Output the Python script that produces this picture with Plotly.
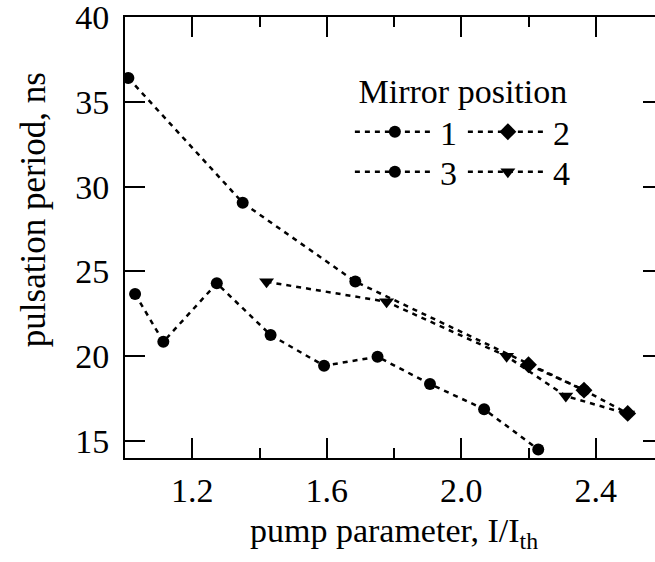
import plotly.graph_objects as go

# ---- data ----
x1 = [1.01, 1.35, 1.685, 2.365]
y1 = [36.4, 29.05, 24.4, 18.0]

x2 = [2.20, 2.365, 2.495]
y2 = [19.5, 18.0, 16.63]

x3 = [1.03, 1.114, 1.273, 1.433, 1.592, 1.751, 1.907, 2.068, 2.229]
y3 = [23.67, 20.85, 24.3, 21.25, 19.44, 19.97, 18.36, 16.88, 14.5]

x4 = [1.421, 1.778, 2.135, 2.311, 2.495]
y4 = [24.39, 23.21, 20.0, 17.65, 16.6]

series_names = ["1", "2", "3", "4"]
y_ticks = [15, 20, 25, 30, 35, 40]
x_ticks = [1.2, 1.6, 2.0, 2.4]
x_tick_labels = ["1.2", "1.6", "2.0", "2.4"]
x_minor_ticks = [1.4, 1.8, 2.2]

FONT = "Liberation Serif"
FS = 34
line_style = dict(color="black", width=2.5, dash="5px,5px")

fig = go.Figure()
fig.add_trace(go.Scatter(x=x1, y=y1, mode="lines+markers", name=series_names[0],
                         line=line_style, marker=dict(symbol="circle", size=12, color="black"),
                         legend="legend"))
fig.add_trace(go.Scatter(x=x2, y=y2, mode="lines+markers", name=series_names[1],
                         line=line_style, marker=dict(symbol="diamond", size=13, color="black"),
                         legend="legend"))
fig.add_trace(go.Scatter(x=x3, y=y3, mode="lines+markers", name=series_names[2],
                         line=line_style, marker=dict(symbol="circle", size=12, color="black"),
                         legend="legend2"))
fig.add_trace(go.Scatter(x=x4, y=y4, mode="lines+markers", name=series_names[3],
                         line=line_style, marker=dict(symbol="triangle-down", size=13, color="black"),
                         legend="legend2"))

axis_common = dict(showline=True, linecolor="black", linewidth=2, mirror="ticks",
                   ticks="inside", ticklen=20, tickwidth=2, tickcolor="black",
                   showgrid=False, zeroline=False, automargin=False,
                   ticklabeloverflow="allow",
                   tickfont=dict(family=FONT, size=FS, color="black"))

fig.update_xaxes(range=[1.0, 2.6], tickvals=x_ticks, ticktext=x_tick_labels,
                 minor=dict(ticks="inside", ticklen=10, tickwidth=2, tickcolor="black",
                            tickvals=x_minor_ticks),
                 ticklabelstandoff=1,
                 title=dict(text="pump parameter, I/I<sub>th</sub>",
                            font=dict(family=FONT, size=FS, color="black"), standoff=10),
                 **axis_common)
fig.update_yaxes(range=[14, 40], tickvals=y_ticks, ticklabelstandoff=7,
                 **axis_common)

# y-axis title (placed a little above the axis centre, as in the reference)
fig.add_annotation(text="pulsation period, ns", textangle=-90,
                   xref="paper", yref="paper", x=-0.171, y=0.562,
                   xanchor="center", yanchor="middle", showarrow=False,
                   font=dict(family=FONT, size=35, color="black"))

legend_common = dict(orientation="h", bgcolor="rgba(0,0,0,0)",
                     font=dict(family=FONT, size=FS, color="black"),
                     itemwidth=80, entrywidth=18, xanchor="left", yanchor="top",
                     tracegroupgap=0, itemsizing="trace")
fig.update_layout(
    template="none",
    width=670, height=562,
    margin=dict(l=125, r=7, t=17, b=104, autoexpand=False),
    paper_bgcolor="white", plot_bgcolor="white",
    font=dict(family=FONT, size=FS, color="black"),
    showlegend=True,
    legend=dict(x=0.418, y=0.905,
                title=dict(text="Mirror position", side="top center",
                           font=dict(family=FONT, size=FS, color="black")),
                **legend_common),
    legend2=dict(x=0.418, y=0.714, **legend_common),
)

fig.write_html("out.html",
               post_script="document.documentElement.style.overflow='hidden';document.body.style.overflow='hidden';")
